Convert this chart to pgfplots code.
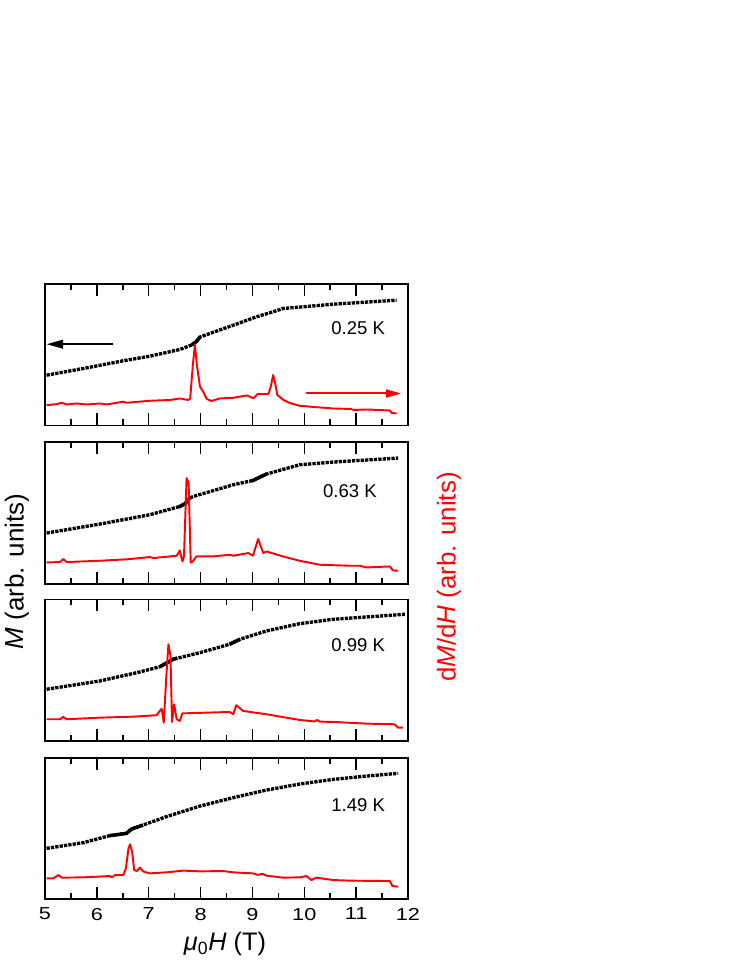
\documentclass[border=0pt]{standalone}
\usepackage{fontspec}
\setmainfont{Liberation Sans}
\newfontfamily\tickfont[FakeStretch=1.25]{Liberation Sans}
\usepackage{pgfplots}
\pgfplotsset{compat=1.18}
\usetikzlibrary{arrows.meta}

\pgfplotsset{
  panel/.style={
    scale only axis, width=272.25pt, height=106.1pt,
    anchor=north west,
    xmin=5, xmax=12, ymin=0, ymax=141.5,
    ytick=\empty, xtick={5,6,...,12}, minor x tick num=1,
    tick align=inside, xtick pos=both,
    major tick length=9pt, minor tick length=4.5pt,
    every tick/.style={black, line width=1.1pt},
    axis line style={line width=1.4pt},
    /pgf/number format/assume math mode=true,
    ticklabel style={font=\tickfont\fontsize{13}{14}\selectfont},
  },
  mcurve/.style={black, line width=2.5pt, dash pattern=on 2.45pt off 0.85pt, line cap=butt},
  mdense/.style={black, line width=2.6pt, line cap=butt},
  rcurve/.style={red, line width=1.45pt, line join=round},
}
\newcommand{\annfont}{\fontsize{13.9}{15}\selectfont}

\begin{document}
\begin{tikzpicture}
\useasboundingbox (0,0) rectangle (560.25pt,-725.25pt);

% ---------------- Panel 1: 0.25 K
\begin{axis}[panel, at={(33.75pt,-213pt)}, xticklabels={}]
\addplot[mcurve] coordinates {(5.03,50.3) (5.74,57.0) (6.51,64.7) (7.02,69.3) (7.60,76.0) (7.83,80.5) (7.92,84.0) (7.99,88.5) (8.63,100.3) (9.08,108.7) (9.40,113.7) (9.59,117.0) (10.56,121.3) (11.78,125.3)};
\addplot[mdense] coordinates {(7.83,80.5) (7.92,84.0) (7.99,88.5)};
\addplot[rcurve] coordinates {(5.03,20.3) (5.22,21.3) (5.32,22.7) (5.42,21.0) (5.61,22.0) (5.80,21.0) (6.06,22.0) (6.19,21.0) (6.51,23.8) (6.57,22.7) (7.02,24.7) (7.41,25.5) (7.60,27.0) (7.76,25.5) (7.80,27.0) (7.85,60.0) (7.89,80.5) (7.93,60.0) (7.99,38.8) (8.05,33.8) (8.12,26.5) (8.21,24.5) (8.37,27.0) (8.63,27.7) (8.89,30.0) (8.92,29.5) (9.02,27.2) (9.10,31.5) (9.31,31.5) (9.35,38.0) (9.40,50.5) (9.44,42.0) (9.48,30.5) (9.60,25.5) (9.72,22.5) (9.91,19.7) (10.23,18.3) (10.56,17.0) (10.90,16.5) (10.95,15.5) (11.20,16.0) (11.65,15.0) (11.68,12.7) (11.78,12.0)};
\draw[black, line width=1.5pt, -{Triangle[length=12.5pt,width=6.5pt]}] (axis cs:6.32,81.3) -- (axis cs:5.03,81.3);
\draw[red, line width=1.5pt, -{Triangle[length=11.5pt,width=6pt]}] (axis cs:10.04,32) -- (axis cs:11.87,32);
\node[font=\annfont] at (axis cs:11.04,97) {0.25 K};
\end{axis}

% ---------------- Panel 2: 0.63 K
\begin{axis}[panel, at={(33.75pt,-331.7pt)}, xticklabels={}]
\addplot[mcurve] coordinates {(5.03,50.7) (6.06,59.7) (7.02,69.0) (7.60,77.3) (7.70,80.0) (7.79,85.7) (7.86,87.3) (8.63,99.0) (9.01,103.3) (9.27,109.7) (9.91,119.0) (10.56,121.7) (11.81,125.7)};
\addplot[mdense] coordinates {(7.58,76.8) (7.70,80.0) (7.79,85.7)};
\addplot[mdense] coordinates {(8.98,102.8) (9.01,103.3) (9.27,109.7)};
\addplot[rcurve] coordinates {(5.03,21.3) (5.29,21.7) (5.35,24.7) (5.42,21.7) (6.06,23.0) (6.60,24.5) (7.02,26.7) (7.09,25.7) (7.54,28.0) (7.60,33.3) (7.65,22.3) (7.68,27.3) (7.73,105.7) (7.77,100.7) (7.81,21.3) (7.85,22.3) (7.92,27.3) (8.24,27.3) (8.56,29.0) (8.63,28.0) (8.92,30.7) (9.01,28.0) (9.11,44.7) (9.21,30.7) (9.27,32.3) (9.59,27.3) (9.91,23.0) (10.30,19.0) (10.88,18.0) (11.07,18.0) (11.20,16.3) (11.65,17.3) (11.71,13.3) (11.81,13.0)};
\node[font=\annfont] at (axis cs:10.88,92.8) {0.63 K};
\end{axis}

% ---------------- Panel 3: 0.99 K
\begin{axis}[panel, at={(33.75pt,-449.6pt)}, xticklabels={}]
\addplot[mcurve] coordinates {(5.03,51.7) (6.06,60.0) (6.83,69.0) (7.22,74.3) (7.47,81.7) (7.99,88.3) (8.56,96.7) (8.76,101.7) (9.27,110.0) (9.91,117.3) (10.56,121.7) (11.94,126.7)};
\addplot[mdense] coordinates {(7.22,74.3) (7.47,81.7) (7.55,82.8)};
\addplot[mdense] coordinates {(8.56,96.7) (8.76,101.7)};
\addplot[rcurve] coordinates {(5.03,21.7) (5.29,21.7) (5.35,24.0) (5.42,21.7) (6.06,23.3) (6.70,24.3) (7.15,25.7) (7.25,32.3) (7.29,18.3) (7.34,65.0) (7.38,96.7) (7.42,85.0) (7.45,19.0) (7.49,36.7) (7.54,21.7) (7.60,20.0) (7.65,27.7) (7.73,27.7) (8.56,29.0) (8.63,26.7) (8.69,35.7) (8.82,30.0) (9.27,26.7) (9.91,21.0) (10.20,19.5) (10.25,21.0) (10.30,19.3) (10.56,19.0) (11.20,17.3) (11.74,16.7) (11.81,13.3) (11.90,13.3)};
\node[font=\annfont] at (axis cs:11.04,95.8) {0.99 K};
\end{axis}

% ---------------- Panel 4: 1.49 K
\begin{axis}[panel, at={(33.75pt,-568.4pt)}, xticklabel style={yshift=-3pt}]
\addplot[mcurve] coordinates {(5.03,51.0) (5.74,56.7) (6.25,63.7) (6.57,66.0) (6.67,70.3) (6.89,74.3) (7.34,82.7) (7.99,93.3) (8.63,101.7) (9.27,109.3) (9.91,115.3) (10.56,120.0) (11.20,123.3) (11.81,126.0)};
\addplot[mdense] coordinates {(6.25,63.7) (6.57,66.0) (6.67,70.3) (6.89,74.3)};
\addplot[rcurve] coordinates {(5.03,21.0) (5.16,21.0) (5.26,24.3) (5.32,21.7) (5.74,22.0) (6.25,23.3) (6.29,22.0) (6.35,24.3) (6.51,24.3) (6.56,31.0) (6.61,51.0) (6.64,55.0) (6.68,47.7) (6.72,29.3) (6.77,28.3) (6.83,31.7) (6.90,27.7) (7.02,26.0) (7.34,27.0) (7.67,28.7) (7.99,28.0) (8.44,28.3) (8.63,27.0) (9.01,26.0) (9.10,24.5) (9.20,25.5) (9.27,23.7) (9.59,21.7) (9.91,22.0) (10.04,23.3) (10.14,19.3) (10.23,21.7) (10.56,19.3) (10.88,18.7) (11.65,18.3) (11.70,13.3) (11.81,12.7)};
\node[font=\annfont] at (axis cs:11.04,94.5) {1.49 K};
\end{axis}

% ---------------- labels
\node[rotate=90, inner sep=0pt, font=\fontsize{19.5}{21}\selectfont] at (12.75pt,-428.6pt) {\textit{M} (arb. units)};
\node[rotate=90, inner sep=0pt, text=red, font=\fontsize{19.4}{21}\selectfont] at (336.75pt,-432.75pt) {d\textit{M}/d\textit{H} (arb. units)};
\node[anchor=base, inner sep=0pt, font=\fontsize{19}{21}\selectfont] at (168.75pt,-712.5pt) {\textit{μ}\textsubscript{0}\textit{H} (T)};
\end{tikzpicture}
\end{document}
